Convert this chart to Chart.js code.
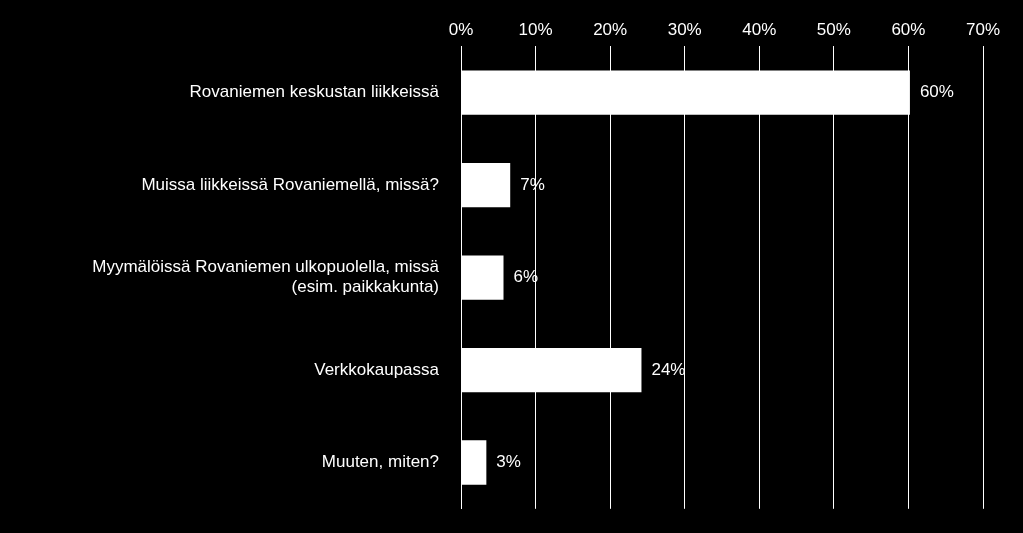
<!DOCTYPE html>
<html>
<head>
<script src="https://cdn.jsdelivr.net/npm/chart.js"></script>
<style>
  html, body { margin: 0; background: #000; }
  #wrap { width: 1023px; height: 533px; }
</style>
</head>
<body>
<div id="wrap"><canvas id="myChart"></canvas></div>
<script>
// data
const categories = [
  'Rovaniemen keskustan liikkeissä',
  'Muissa liikkeissä Rovaniemellä, missä?',
  ['Myymälöissä Rovaniemen ulkopuolella, missä', '(esim. paikkakunta)'],
  'Verkkokaupassa',
  'Muuten, miten?'
];
const values = [60.2, 6.6, 5.7, 24.2, 3.4];
const valueLabels = ['60%', '7%', '6%', '24%', '3%'];

const font = { family: "'Liberation Sans', 'DejaVu Sans', sans-serif", size: 17 };

// value labels at bar end
const barLabels = {
  id: 'barLabels',
  afterDatasetsDraw(chart) {
    const ctx = chart.ctx;
    const meta = chart.getDatasetMeta(0);
    ctx.save();
    ctx.fillStyle = '#fff';
    ctx.font = font.size + 'px ' + font.family;
    ctx.textBaseline = 'middle';
    meta.data.forEach((bar, i) => {
      ctx.fillText(valueLabels[i], bar.x + 10, bar.y);
    });
    ctx.restore();
  }
};

new Chart(document.getElementById('myChart'), {
  type: 'bar',
  data: {
    labels: categories,
    datasets: [{
      data: values,
      backgroundColor: '#fff',
      borderWidth: 0,
      categoryPercentage: 0.96,
      barPercentage: 0.5
    }]
  },
  options: {
    indexAxis: 'y',
    responsive: true,
    maintainAspectRatio: false,
    animation: false,
    layout: { padding: { top: 14, right: 40, bottom: 15, left: 10 } },
    plugins: { legend: { display: false }, tooltip: { enabled: false } },
    scales: {
      x: {
        position: 'top',
        min: 0, max: 70,
        ticks: { stepSize: 10, color: '#fff', font: font, padding: 6, callback: v => v + '%' },
        grid: { color: '#fff', lineWidth: 1, drawTicks: false },
        border: { display: false }
      },
      y: {
        afterFit: s => { s.width = 451; },
        ticks: { color: '#fff', font: font, padding: 14 },
        grid: { display: false },
        border: { color: '#fff' }
      }
    }
  },
  plugins: [barLabels]
});
</script>
</body>
</html>
